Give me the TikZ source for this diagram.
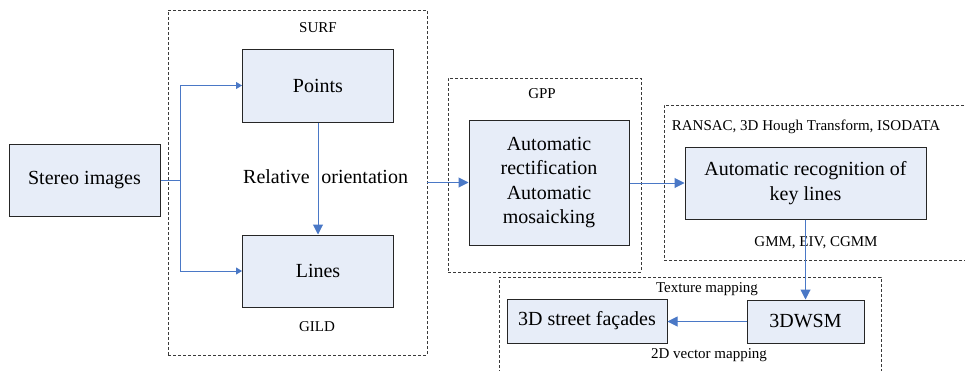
\documentclass[tikz,border=0pt]{standalone}
\usepackage{fontspec}
\setmainfont{Liberation Serif}
\usetikzlibrary{arrows.meta}
\definecolor{boxfill}{HTML}{E7EDF8}
\definecolor{arrowblue}{HTML}{4A78C6}
\definecolor{dashgray}{HTML}{3A3A3A}
\begin{document}
\begin{tikzpicture}[x=1pt,y=-1pt,
  procbox/.style={draw=black!85, line width=1pt, fill=boxfill, inner sep=0pt, align=center,
                  font=\fontsize{20}{24.5}\selectfont},
  groupbox/.style={draw=dashgray, line width=0.8pt, dash pattern=on 3pt off 2pt, inner sep=0pt},
  small/.style={font=\fontsize{15}{18}\selectfont, inner sep=0pt},
  flow/.style={draw=arrowblue, line width=1pt, -{Triangle[length=10pt,width=10pt]}},
  flowthin/.style={draw=arrowblue, line width=1pt, -{Triangle[length=6pt,width=7pt]}},
]
\useasboundingbox (0,0) rectangle (965,370);
\clip (0,0) rectangle (965,370);
% group (dashed) boxes
\node[groupbox, minimum width=259pt, minimum height=345pt] (grp1) at (297.5,182.5) {};
\node[groupbox, minimum width=193pt, minimum height=194pt] (grp2) at (544.5,175) {};
\node[groupbox, minimum width=320pt, minimum height=155pt] (grp3) at (824,182.5) {};
\node[groupbox, minimum width=382pt, minimum height=113pt] (grp4) at (690,333.5) {};
% process boxes
\node[procbox, minimum width=151pt, minimum height=72pt] (stereo) at (84.5,180) {Stereo images};
\node[procbox, minimum width=151pt, minimum height=73pt] (points) at (318,85.5) {Points};
\node[procbox, minimum width=151pt, minimum height=72pt] (lines) at (318,271) {Lines};
\node[procbox, minimum width=160pt, minimum height=125pt] (gpp) at (549,182.5)
  {Automatic\\rectification\\Automatic\\mosaicking};
\node[procbox, minimum width=241pt, minimum height=72pt] (keyl) at (805.5,183)
  {Automatic recognition of\\key lines};
\node[procbox, minimum width=117pt, minimum height=43pt] (wsm) at (805.5,321.5) {3DWSM};
\node[procbox, minimum width=160pt, minimum height=44pt] (facade) at (587,321) {3D street façades};
% labels
\node[small] (surf) at (318,28) {SURF};
\node[small] (gild) at (317,327) {GILD};
\node[small] (gpplab) at (542,94) {GPP};
\node[small] (ransac) at (806,127) {RANSAC, 3D Hough Transform, ISODATA};
\node[small] (gmm) at (816,243) {GMM, EIV, CGMM};
\node[small] (texture) at (707,289) {Texture mapping};
\node[small] (vector) at (709,355) {2D vector mapping};
\node[inner sep=0pt, anchor=west, font=\fontsize{20}{24}\selectfont] (relor) at (243,177)
  {Relative\hspace{11.5pt}orientation};
% connectors
\coordinate (split) at (180,180);
\draw[draw=arrowblue, line width=1pt] (stereo.east) -- (split);
\draw[flowthin] (split) |- (points.west);
\draw[flowthin] (split) |- (lines.west);
\draw[flow] (points.south) -- (lines.north);
\draw[flow] (grp1.east |- gpp.west) -- (gpp.west);
\draw[flow] (gpp.east |- keyl.west) -- (keyl.west);
\draw[flow] (keyl.south) -- (wsm.north);
\draw[flow] (wsm.west) -- (facade.east |- wsm.west);
\end{tikzpicture}
\end{document}
